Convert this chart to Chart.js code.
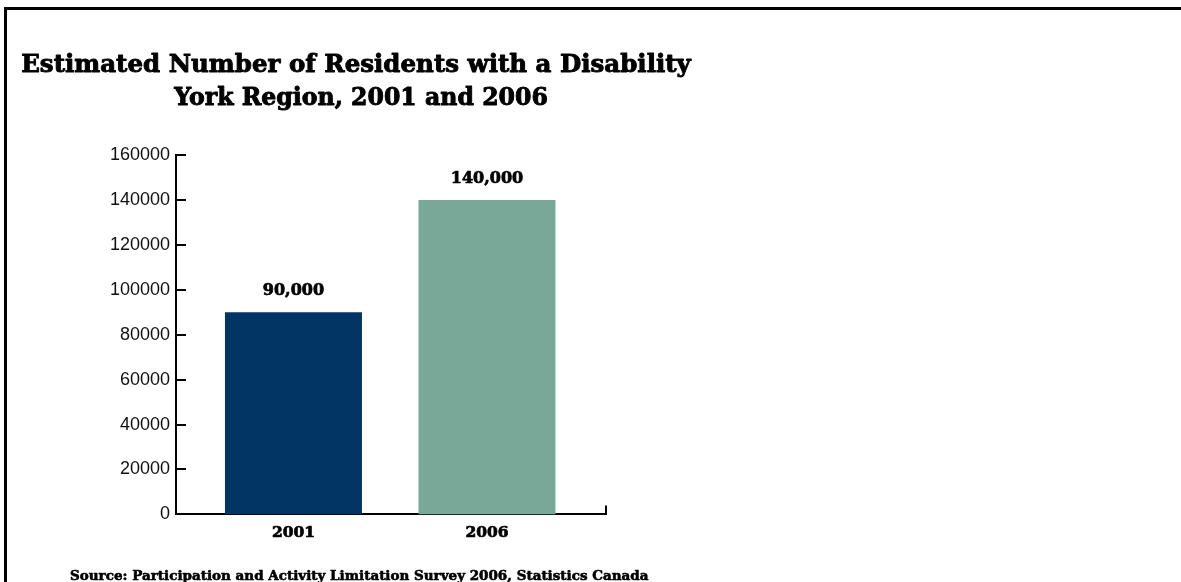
<!DOCTYPE html>
<html>
<head>
<meta charset="utf-8">
<title>Estimated Number of Residents with a Disability</title>
<script src="https://cdn.jsdelivr.net/npm/chart.js@4/dist/chart.umd.min.js"></script>
<style>
  html, body { margin: 0; padding: 0; background: #fff; }
  #wrap { position: relative; width: 1181px; height: 582px; overflow: hidden; }
  #frame {
    position: absolute; left: 4px; top: 7px; right: -10px; bottom: -10px;
    border-top: 3px solid #000; border-left: 3px solid #000;
    pointer-events: none;
  }
  canvas { position: absolute; left: 0; top: 0; }
</style>
</head>
<body>
<div id="wrap">
  <canvas id="chart" width="1181" height="582"></canvas>
  <div id="frame"></div>
</div>
<script>
// Chart content
const titleLines = ['Estimated Number of Residents with a Disability', 'York Region, 2001 and 2006'];
const years = ['2001', '2006'];
const residents = [90000, 140000];
const barColors = ['#023564', '#77A898'];
const yTicks = [0, 20000, 40000, 60000, 80000, 100000, 120000, 140000, 160000];
const sourceNote = 'Source: Participation and Activity Limitation Survey 2006, Statistics Canada';

const slab = "'DejaVu Serif', 'Liberation Serif', serif";

// Heavy slab text: fill plus a thin outline to thicken the strokes
function heavyText(ctx, text, x, y, size, weightPx) {
  ctx.font = 'bold ' + size + 'px ' + slab;
  ctx.fillStyle = '#000';
  ctx.strokeStyle = '#000';
  ctx.lineWidth = weightPx;
  ctx.lineJoin = 'round';
  ctx.fillText(text, x, y);
  ctx.strokeText(text, x, y);
}

// Two-line heading above the plot
const headingCenters = [356, 361];
const headingSizes = [24.5, 23.6];
const heading = {
  id: 'heading',
  afterDraw(chart) {
    const ctx = chart.ctx;
    ctx.save();
    ctx.textAlign = 'center';
    ctx.textBaseline = 'middle';
    titleLines.forEach((line, i) => heavyText(ctx, line, headingCenters[i], 66 + i * 33, headingSizes[i], 0.9));
    ctx.restore();
  }
};

// Value labels above each bar
const valueLabels = {
  id: 'valueLabels',
  afterDatasetsDraw(chart) {
    const ctx = chart.ctx;
    const meta = chart.getDatasetMeta(0);
    ctx.save();
    ctx.textAlign = 'center';
    ctx.textBaseline = 'middle';
    meta.data.forEach((bar, i) => {
      heavyText(ctx, residents[i].toLocaleString('en-US'), bar.x, bar.y - 21, 16, 0.7);
    });
    ctx.restore();
  }
};

// Inward tick marks on the value axis and the closing tick at the end of the category axis
const innerTicks = {
  id: 'innerTicks',
  afterDraw(chart) {
    const ctx = chart.ctx;
    const area = chart.chartArea;
    const y = chart.scales.y;
    ctx.save();
    ctx.strokeStyle = '#000';
    ctx.lineWidth = 2;
    ctx.beginPath();
    y.ticks.forEach(t => {
      if (t.value === 0) return;
      const py = Math.round(y.getPixelForValue(t.value));
      ctx.moveTo(area.left, py);
      ctx.lineTo(area.left + 10, py);
    });
    ctx.moveTo(area.right, area.bottom);
    ctx.lineTo(area.right, area.bottom - 9);
    ctx.stroke();
    ctx.restore();
  }
};

// Source note under the chart
const sourceText = {
  id: 'sourceText',
  afterDraw(chart) {
    const ctx = chart.ctx;
    ctx.save();
    ctx.textAlign = 'left';
    ctx.textBaseline = 'middle';
    heavyText(ctx, sourceNote, chart.chartArea.left - 106, 576, 13.5, 0.6);
    ctx.restore();
  }
};

new Chart(document.getElementById('chart'), {
  type: 'bar',
  data: {
    datasets: [{
      data: residents.map((v, i) => ({ x: i, y: v })),
      backgroundColor: barColors,
      borderWidth: 0,
      categoryPercentage: 1,
      barPercentage: 0.708
    }]
  },
  options: {
    responsive: false,
    animation: false,
    events: [],
    layout: { padding: { left: 110, right: 575, top: 155, bottom: 31 } },
    plugins: {
      legend: { display: false },
      tooltip: { enabled: false },
      title: { display: false }
    },
    scales: {
      x: {
        type: 'linear',
        min: -0.607,
        max: 1.615,
        offset: false,
        afterBuildTicks: s => { s.ticks = years.map((_, i) => ({ value: i })); },
        grid: { display: false, drawTicks: false },
        border: { display: true, color: '#000', width: 2 },
        ticks: {
          autoSkip: false,
          maxRotation: 0,
          padding: 9,
          color: '#000',
          textStrokeColor: '#000',
          textStrokeWidth: 0.7,
          font: { family: slab, size: 15.5, weight: 'bold' },
          callback: v => years[v]
        }
      },
      y: {
        min: 0,
        max: 160000,
        afterBuildTicks: s => { s.ticks = yTicks.map(v => ({ value: v })); },
        afterFit: s => { s.width = 66; },
        grid: { display: false, drawTicks: false },
        border: { display: true, color: '#000', width: 2 },
        ticks: {
          padding: 6,
          color: '#111',
          font: { family: "'Liberation Sans', Arial, sans-serif", size: 18 },
          callback: v => String(v)
        }
      }
    }
  },
  plugins: [heading, valueLabels, innerTicks, sourceText]
});
</script>
</body>
</html>
